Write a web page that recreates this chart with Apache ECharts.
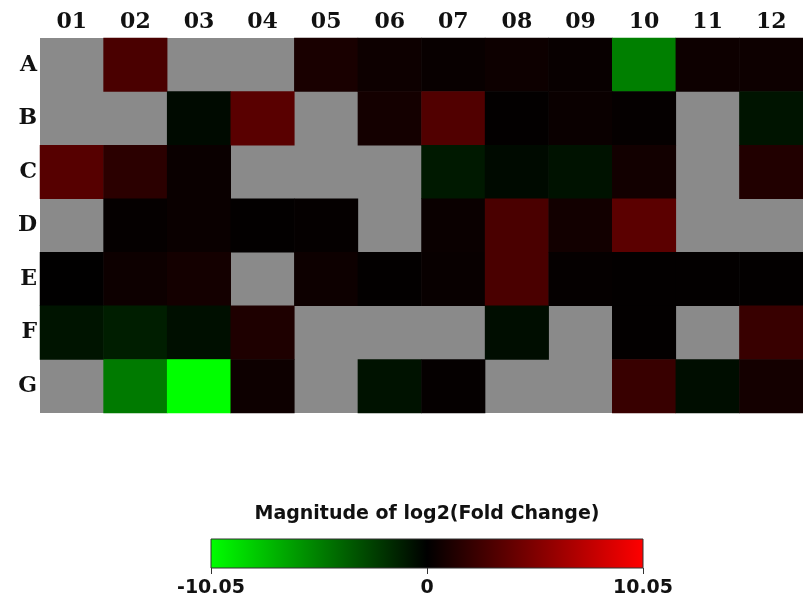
<!DOCTYPE html>
<html>
<head>
<meta charset="utf-8">
<title>log2 Fold Change heatmap</title>
<script src="https://cdn.jsdelivr.net/npm/echarts@6/dist/echarts.min.js"></script>
<style>
  html, body { margin: 0; padding: 0; background: #ffffff; }
  #chart { width: 803px; height: 599px; }
</style>
</head>
<body>
<div id="chart"></div>
<script>
// Plate layout: rows A-G, columns 01-12
var rowLabels = ['A', 'B', 'C', 'D', 'E', 'F', 'G'];
var colLabels = ['01', '02', '03', '04', '05', '06', '07', '08', '09', '10', '11', '12'];

// log2(fold change) per well; null = no measurement (drawn grey)
var rowA = [null, 2.9, null, null, 1.0, 0.5, 0.3, 0.5, 0.3, -5.0, 0.5, 0.5];
var rowB = [null, null, -0.4, 3.5, null, 0.8, 3.2, 0.1, 0.4, 0.2, null, -0.8];
var rowC = [3.4, 1.7, 0.4, null, null, null, -1.0, -0.4, -0.7, 0.7, null, 1.3];
var rowD = [null, 0.2, 0.4, 0.1, 0.2, null, 0.4, 2.9, 0.7, 3.6, null, null];
var rowE = [0.05, 0.5, 0.8, null, 0.5, 0.1, 0.3, 2.9, 0.2, 0.1, 0.1, 0.1];
var rowF = [-0.8, -1.2, -0.6, 1.2, null, null, null, -0.5, null, 0.1, null, 2.2];
var rowG = [null, -4.8, -10.05, 0.5, null, -0.7, 0.2, null, null, 2.2, -0.5, 0.8];

// Colour scale limits and legend ticks
var scaleMin = -10.05;
var scaleMax = 10.05;
var legendTicks = [-10.05, 0, 10.05];
var legendTickLabels = ['-10.05', '0', '10.05'];
var legendTitle = 'Magnitude of log2(Fold Change)';

var rows = [rowA, rowB, rowC, rowD, rowE, rowF, rowG];
var cells = [];
rows.forEach(function (vals, r) {
  vals.forEach(function (v, c) {
    if (v !== null) cells.push([c, r, v]);
  });
});

var chart = echarts.init(document.getElementById('chart'), null, { renderer: 'canvas' });

// Colour bar geometry
var bar = { x: 211, y: 539, w: 432, h: 29 };
function barX(v) {
  return bar.x + (v - scaleMin) / (scaleMax - scaleMin) * bar.w;
}

var legendGraphics = [
  {
    type: 'text',
    x: bar.x + bar.w / 2,
    y: 514,
    style: {
      text: legendTitle,
      font: 'bold 19px "DejaVu Sans"',
      fill: '#111111',
      align: 'center',
      verticalAlign: 'middle'
    }
  },
  {
    type: 'rect',
    shape: { x: bar.x, y: bar.y, width: bar.w, height: bar.h },
    style: {
      fill: new echarts.graphic.LinearGradient(0, 0, 1, 0, [
        { offset: 0, color: '#00ff00' },
        { offset: 0.5, color: '#000000' },
        { offset: 1, color: '#ff0000' }
      ]),
      stroke: '#333333',
      lineWidth: 1
    }
  }
];
legendTicks.forEach(function (t, i) {
  var x = Math.round(barX(t)) + 0.5;
  legendGraphics.push({
    type: 'line',
    shape: { x1: x, y1: bar.y + bar.h, x2: x, y2: bar.y + bar.h + 6 },
    style: { stroke: '#333333', lineWidth: 1 }
  });
  legendGraphics.push({
    type: 'text',
    x: barX(t),
    y: 588,
    style: {
      text: legendTickLabels[i],
      font: 'bold 19px "DejaVu Sans"',
      fill: '#111111',
      align: 'center',
      verticalAlign: 'middle'
    }
  });
});

var option = {
  backgroundColor: '#ffffff',
  animation: false,
  grid: {
    left: 40,
    top: 38,
    width: 770,
    height: 375,
    show: true,
    backgroundColor: '#8a8a8a',
    borderWidth: 0
  },
  xAxis: {
    type: 'category',
    data: colLabels,
    position: 'top',
    axisLine: { show: false },
    axisTick: { show: false },
    splitLine: { show: false },
    axisLabel: {
      margin: 5,
      color: '#111111',
      fontFamily: 'DejaVu Serif',
      fontWeight: 'bold',
      fontSize: 22
    }
  },
  yAxis: {
    type: 'category',
    data: rowLabels,
    inverse: true,
    axisLine: { show: false },
    axisTick: { show: false },
    splitLine: { show: false },
    axisLabel: {
      margin: 3,
      color: '#111111',
      fontFamily: 'DejaVu Serif',
      fontWeight: 'bold',
      fontSize: 22,
      padding: [6, 0, 0, 0]
    }
  },
  visualMap: {
    show: false,
    type: 'continuous',
    min: scaleMin,
    max: scaleMax,
    dimension: 2,
    inRange: { color: ['#00ff00', '#000000', '#ff0000'] }
  },
  series: [{
    type: 'heatmap',
    data: cells,
    itemStyle: { borderWidth: 0 },
    emphasis: { disabled: true }
  }],
  graphic: legendGraphics
};

chart.setOption(option);
</script>
</body>
</html>
